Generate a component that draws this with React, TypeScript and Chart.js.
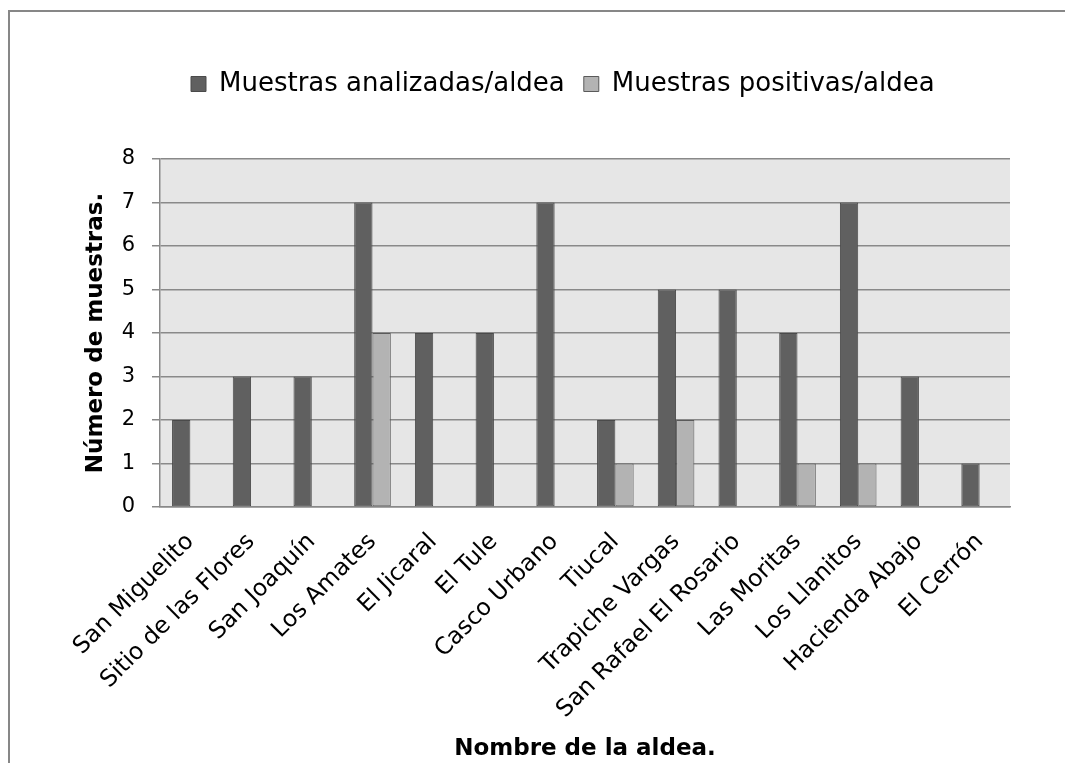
import { useEffect, useRef } from "react";
import { Chart, registerables } from "chart.js";

Chart.register(...registerables);

// Sample counts per village
const aldeas = [
  "San Miguelito",
  "Sitio de las Flores",
  "San Joaquín",
  "Los Amates",
  "El Jicaral",
  "El Tule",
  "Casco Urbano",
  "Tiucal",
  "Trapiche Vargas",
  "San Rafael El Rosario",
  "Las Moritas",
  "Los Llanitos",
  "Hacienda Abajo",
  "El Cerrón",
];
const analizadas = [2, 3, 3, 7, 4, 4, 7, 2, 5, 5, 4, 7, 3, 1];
const positivas = [0, 0, 0, 4, 0, 0, 0, 1, 2, 0, 1, 1, 0, 0];

const serieAnalizadas = "Muestras analizadas/aldea";
const seriePositivas = "Muestras positivas/aldea";
const tituloY = "Número de muestras.";
const tituloX = "Nombre de la aldea.";
const yMin = 0;
const yMax = 8;
const yStep = 1;

const FONT = "'DejaVu Sans', 'Liberation Sans', Arial, sans-serif";
const GRID = "#898989";

const LEGEND_HEIGHT = 107;
const LEGEND_START_X = 181;

// Grey plot-area fill behind the grid and bars
const plotBackground = {
  id: "plotBackground",
  beforeDraw(chart: any) {
    const { ctx, chartArea: a } = chart;
    ctx.save();
    ctx.fillStyle = "#e6e6e6";
    ctx.fillRect(a.left, a.top, a.right - a.left, a.bottom - a.top);
    ctx.restore();
  },
};

// Fixed legend band height and horizontal start of the legend row
const legendPlacement = {
  id: "legendPlacement",
  beforeLayout(chart: any) {
    const lg = chart.legend;
    if (lg && !lg.__fixedFit) {
      const fit = lg.fit;
      lg.fit = function (this: any) {
        fit.call(this);
        this.height = LEGEND_HEIGHT;
      };
      lg.__fixedFit = true;
    }
  },
  afterLayout(chart: any) {
    const lg = chart.legend;
    if (!lg) return;
    const pad = lg.options.labels.padding;
    const shift = LEGEND_START_X - (lg.left + pad);
    lg.left += shift;
    lg.right += shift;
  },
};

export default function App() {
  const canvasRef = useRef<HTMLCanvasElement | null>(null);

  useEffect(() => {
    const canvas = canvasRef.current;
    if (!canvas) return;
    const chart = new Chart(canvas, {
      type: "bar",
      data: {
        labels: aldeas,
        datasets: [
          {
            label: serieAnalizadas,
            data: analizadas,
            backgroundColor: "#606060",
            borderColor: "#4a4a4a",
            borderWidth: 1,
            borderSkipped: false,
            categoryPercentage: 0.603,
            barPercentage: 1,
          },
          {
            label: seriePositivas,
            data: positivas,
            backgroundColor: "#b3b3b3",
            borderColor: "#5a5a5a",
            borderWidth: 1,
            borderSkipped: false,
            categoryPercentage: 0.603,
            barPercentage: 1,
          },
        ],
      },
      options: {
        responsive: false,
        animation: false,
        layout: { padding: { left: 0, right: 55, top: 40, bottom: 0 } },
        plugins: {
          legend: {
            display: true,
            position: "top",
            align: "start",
            labels: {
              boxWidth: 15,
              boxHeight: 15,
              padding: 19,
              color: "#000",
              font: { family: FONT, size: 26 },
            },
          },
          tooltip: { enabled: false },
        },
        scales: {
          x: {
            offset: true,
            grid: { display: false, drawTicks: false },
            border: { display: true, color: GRID, width: 1.5 },
            ticks: {
              autoSkip: false,
              maxRotation: 45,
              minRotation: 45,
              padding: 21,
              color: "#000",
              font: { family: FONT, size: 23.5 },
            },
            title: {
              display: true,
              text: tituloX,
              color: "#000",
              font: { family: FONT, size: 23, weight: "bold" },
              padding: { top: 0, bottom: 0 },
            },
            afterFit(scale: any) {
              scale.height = 256;
            },
          },
          y: {
            min: yMin,
            max: yMax,
            grid: {
              color: GRID,
              lineWidth: 1.5,
              drawTicks: true,
              tickLength: 8,
              tickColor: GRID,
            },
            border: { display: true, color: GRID, width: 1.5 },
            ticks: {
              stepSize: yStep,
              padding: 17,
              color: "#000",
              font: { family: FONT, size: 21 },
            },
            title: {
              display: true,
              text: tituloY,
              color: "#000",
              font: { family: FONT, size: 23, weight: "bold" },
              padding: { top: 72, bottom: 0 },
            },
            afterFit(scale: any) {
              scale.width = 150;
            },
          },
        },
      },
      plugins: [plotBackground, legendPlacement],
    });
    return () => chart.destroy();
  }, []);

  return (
    <div
      style={{
        position: "fixed",
        left: 8,
        top: 10,
        width: 1057,
        height: 753,
        boxSizing: "border-box",
        borderLeft: "2px solid #878787",
        borderTop: "2px solid #878787",
        background: "#fff",
      }}
    >
      <canvas
        ref={canvasRef}
        width={1055}
        height={751}
        style={{ display: "block", width: 1055, height: 751 }}
      />
    </div>
  );
}
